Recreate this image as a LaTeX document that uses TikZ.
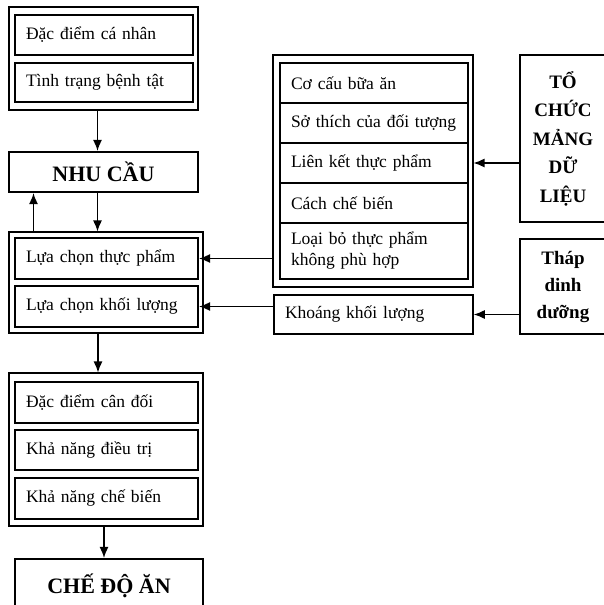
\documentclass[tikz,border=0pt]{standalone}
\usepackage{fontspec}
\setmainfont{Liberation Serif}
\usetikzlibrary{arrows.meta}

\tikzset{
  frame/.style={draw, line width=1.1pt, inner sep=0pt},
  item/.style={draw, line width=2.2pt, inner sep=0pt, inner xsep=11pt,
    align=left, font=\fontsize{17.5}{20}\selectfont},
  row/.style={draw, line width=1.5pt, inner sep=0pt, inner xsep=11pt,
    align=left, font=\fontsize{17.5}{21}\selectfont, text width=166pt},
  title/.style={draw, line width=2.2pt, inner sep=0pt,
    font=\bfseries\fontsize{22}{25}\selectfont},
  side/.style={draw, line width=1.5pt, inner sep=0pt, align=center,
    font=\bfseries\fontsize{19}{28.5}\selectfont},
  link/.style={-{Latex[length=11pt,width=9pt]}, line width=1.3pt}
}

\begin{document}
\begin{tikzpicture}[x=1pt, y=-1pt]
  \useasboundingbox (0,0) rectangle (604,605);
  \clip (0,0) rectangle (604,605);

  % left column
  \node[frame, minimum width=189pt, minimum height=103pt] (g1) at (103.5,58.5) {};
  \node[item, text width=156pt, minimum height=40pt] (a1) at (104,35) {Đặc điểm cá nhân};
  \node[item, text width=156pt, minimum height=39pt] (a2) at (104,82.5) {Tình trạng bệnh tật};

  \node[title, minimum width=189pt, minimum height=40pt] (n) at (103.5,172) {NHU CẦU};

  \node[frame, minimum width=194pt, minimum height=101pt] (g2) at (106,282.5) {};
  \node[item, text width=161pt, minimum height=41pt] (b1) at (106.5,258.5) {Lựa chọn thực phẩm};
  \node[item, text width=161pt, minimum height=41pt] (b2) at (106.5,306.5) {Lựa chọn khối lượng};

  \node[frame, minimum width=194pt, minimum height=153pt] (g3) at (106,449.5) {};
  \node[item, text width=161pt, minimum height=41pt] (c1) at (106.5,402.5) {Đặc điểm cân đối};
  \node[item, text width=161pt, minimum height=40pt] (c2) at (106.5,450) {Khả năng điều trị};
  \node[item, text width=161pt, minimum height=41pt] (c3) at (106.5,498.5) {Khả năng chế biến};

  \node[title, minimum width=188pt, minimum height=54pt] (d) at (109,586) {CHẾ ĐỘ ĂN};

  % right column
  \node[frame, minimum width=200pt, minimum height=232pt] (r) at (373,171) {};
  \node[row, minimum height=40pt] (r1) at (374,83) {Cơ cấu bữa ăn};
  \node[row, minimum height=40pt] (r2) at (374,123) {Sở thích của đối tượng};
  \node[row, minimum height=40pt] (r3) at (374,163) {Liên kết thực phẩm};
  \node[row, minimum height=40pt] (r4) at (374,203) {Cách chế biến};
  \node[row, minimum height=56pt] (r5) at (374,251) {Loại bỏ thực phẩm\\không phù hợp};

  \node[frame, line width=1.5pt, inner xsep=11pt, align=left, text width=177pt,
    minimum height=39pt, font=\fontsize{17.5}{20}\selectfont] (k) at (373.5,314.5) {Khoáng khối lượng};

  \node[side, minimum width=86pt, minimum height=167pt] (t) at (563,138.5) {TỔ\\CHỨC\\MẢNG\\DỮ\\LIỆU};
  \node[side, minimum width=86pt, minimum height=95pt, font=\bfseries\fontsize{19}{27}\selectfont] (p) at (563,286.5) {Tháp\\dinh\\dưỡng};

  % connectors
  \draw[link] ([xshift=-6pt]g1.south) -- ([xshift=-6pt]g1.south |- n.north);
  \draw[link] ([xshift=-6pt]n.south) -- ([xshift=-6pt]n.south |- g2.north);
  \draw[link] ([xshift=-70pt]n.south |- g2.north) -- ([xshift=-70pt]n.south);
  \draw[link] ([xshift=-8pt]g2.south) -- ([xshift=-8pt]g2.south |- g3.north);
  \draw[link] ([xshift=-2pt]g3.south) -- ([xshift=-2pt]g3.south |- d.north);
  \draw[link] (t.west |- r3.east) -- (r.east |- r3.east);
  \draw[link] (r.west |- b1.east) -- (b1.east);
  \draw[link] (k.west |- b2.east) -- (b2.east);
  \draw[link] (p.west |- k.east) -- (k.east);
\end{tikzpicture}
\end{document}
